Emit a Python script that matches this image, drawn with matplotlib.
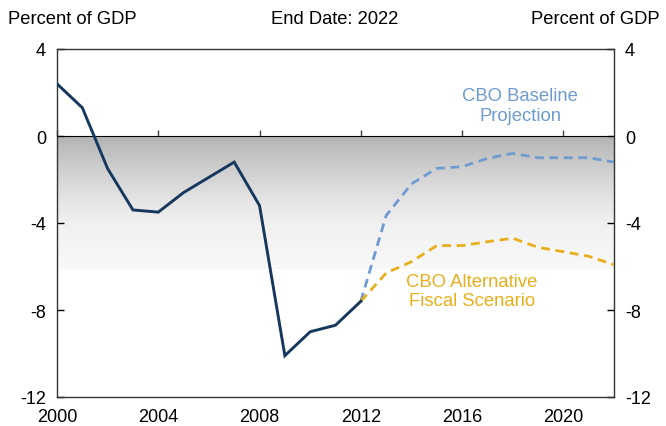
import numpy as np
import matplotlib
matplotlib.use("Agg")
import matplotlib.pyplot as plt
from matplotlib.colors import LinearSegmentedColormap

plt.rcParams['font.family'] = ['Liberation Sans', 'DejaVu Sans']

hist_years = list(range(2000, 2013))
hist_vals = [2.4, 1.3, -1.5, -3.4, -3.5, -2.6, -1.9, -1.2, -3.2, -10.1, -9.0, -8.7, -7.6]

proj_years = list(range(2012, 2023))
baseline_vals = [-7.6, -3.66, -2.2, -1.49, -1.41, -1.03, -0.8, -1.0, -1.0, -1.0, -1.2]
alt_vals = [-7.6, -6.3, -5.78, -5.04, -5.04, -4.86, -4.7, -5.12, -5.32, -5.53, -5.92]

xticks = [2000, 2004, 2008, 2012, 2016, 2020]
yticks = [-12, -8, -4, 0, 4]

navy = '#16375e'
blue = '#6f9bd1'
gold = '#e8ae1c'

W, H = 666, 427
fig = plt.figure(figsize=(W/100, H/100), dpi=100)
ax = fig.add_axes([57/W, 1-398/H, (614-57)/W, (398-50)/H])

# gradient shading from 0 down to about -6
cmap = LinearSegmentedColormap.from_list(
    'g', [(0.0, '#b4b4b4'), (0.25, '#cfcfcf'), (0.5, '#e6e6e6'), (0.67, '#f1f1f1'), (1.0, '#f9f9f9')])
grad = np.linspace(0, 1, 256).reshape(-1, 1)
ax.imshow(grad, extent=[2000, 2022, -6.1, 0], aspect='auto', cmap=cmap, origin='upper', zorder=0)
ax.set_xlim(2000, 2022)
ax.set_ylim(-12, 4)

ax.plot(proj_years, baseline_vals, color=blue, lw=2.0, dashes=(3.2, 2.0), zorder=3)
ax.plot(proj_years, alt_vals, color=gold, lw=2.0, dashes=(3.2, 2.0), zorder=3)
ax.plot(hist_years, hist_vals, color=navy, lw=2.1, zorder=4, solid_joinstyle='miter')

# zero axis with ticks
sec = ax.secondary_xaxis(0.75)
sec.set_xticks(xticks)
sec.tick_params(axis='x', direction='out', length=4, width=1, color='#444444', labelbottom=False)
sec.set_xticklabels([])
sec.spines['bottom'].set_color('#555555')
sec.spines['bottom'].set_linewidth(1.0)

ax.set_xticks(xticks)
ax.set_yticks(yticks)
ax.set_yticklabels([str(v) for v in yticks])
ax.tick_params(axis='x', length=0, pad=8, labelsize=13)
ax.tick_params(axis='y', direction='in', length=5, width=1, labelsize=13, left=True, right=True,
               labelleft=True, labelright=True, pad=8)
for s in ax.spines.values():
    s.set_color('#333333')
    s.set_linewidth(1.0)

fig.text(8/W, 1-20/H, 'Percent of GDP', fontsize=13.2, ha='left', va='center')
fig.text(335/W, 1-20/H, 'End Date: 2022', fontsize=13.2, ha='center', va='center')
fig.text(660/W, 1-20/H, 'Percent of GDP', fontsize=13.2, ha='right', va='center')

ax.text(2018.29, 1.4, 'CBO Baseline\nProjection', color=blue, fontsize=13.3, ha='center', va='center', linespacing=1.2)
ax.text(2016.39, -7.13, 'CBO Alternative\nFiscal Scenario', color=gold, fontsize=13.3, ha='center', va='center', linespacing=1.2)

fig.savefig('out.png', dpi=100)
